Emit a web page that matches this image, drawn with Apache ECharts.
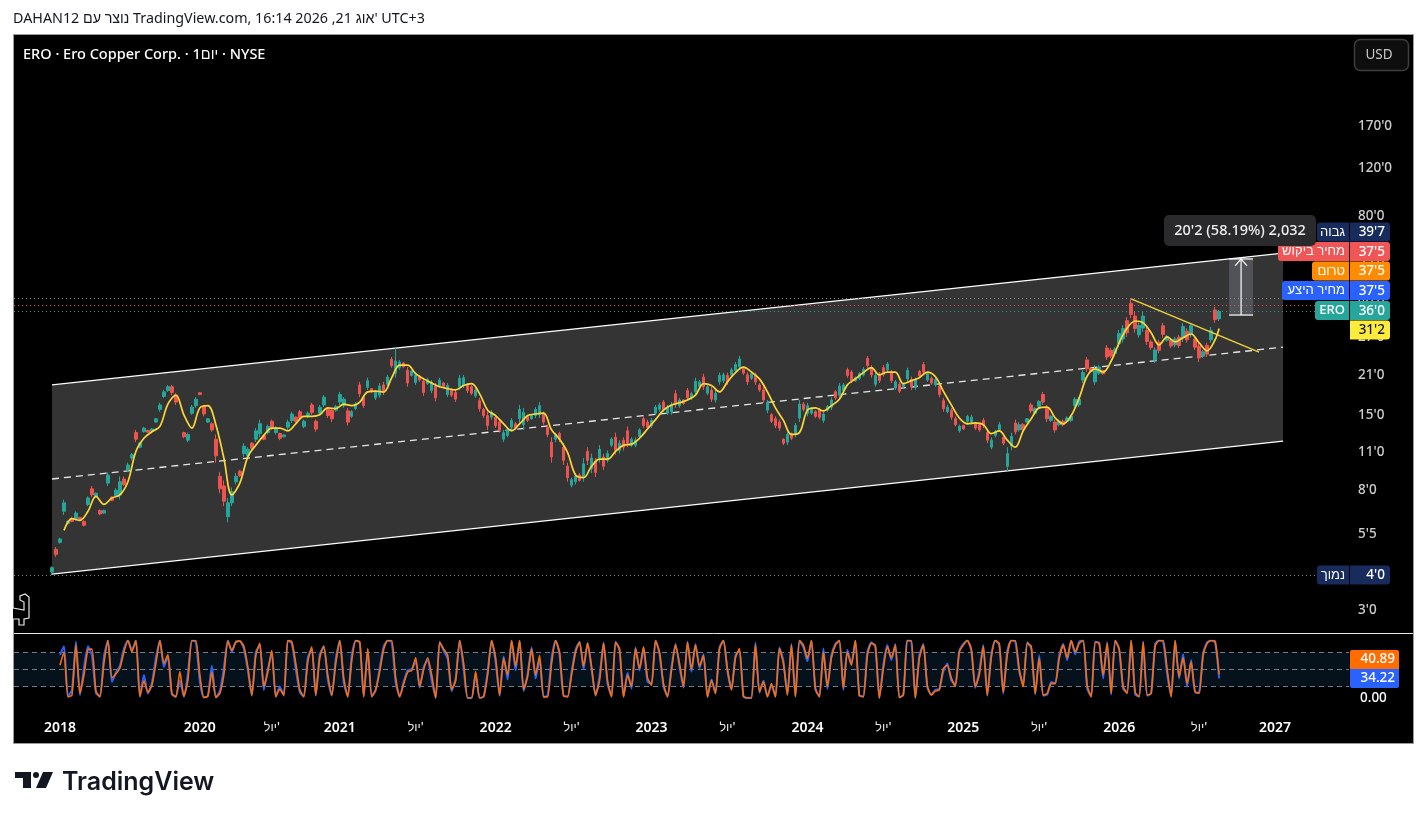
<!DOCTYPE html>
<html><head><meta charset="utf-8">
<style>html,body{margin:0;padding:0;background:#fff;overflow:hidden}#c{width:1427px;height:819px}</style>
<script src="https://cdn.jsdelivr.net/npm/echarts@6/dist/echarts.min.js"></script>
</head><body><div id="c"></div>
<script>
const slotCount = 334, firstCandleSlot = 9;
const opens = [4.1,4.95,5.25,6.8,6.15,6.4,6.4,6.45,6.25,7.2,
8.2,7.7,6.85,6.7,8.6,7.65,7.75,7.8,8.9,9.6,
10.6,13.1,11.6,13.2,13.35,13.25,14.3,15.9,17.7,18.6,
19.2,17.9,null,13.1,12.3,15.4,16.4,18.25,16.2,14.3,
14.1,12.4,9.1,8.4,6.5,7.3,8.7,9.5,11.0,10.8,
12.0,12.4,13.0,12.8,13.1,14.4,13.1,13.0,12.65,13.7,
14.5,14.9,15.6,13.8,15.0,16.5,14.4,15.4,16.5,15.9,
15.8,15.8,16.9,16.4,15.7,15.0,16.0,19.5,17.6,19.1,
18.9,17.5,17.9,19.5,19.6,24.1,21.5,22.5,23.4,22.0,
21.1,19.9,21.0,20.1,19.7,18.6,19.3,19.3,19.8,18.0,
18.8,18.3,19.2,19.4,19.5,19.2,17.8,17.1,15.9,15.1,
14.9,14.9,14.3,12.4,12.8,13.7,14.1,14.7,14.0,15.0,
14.7,15.1,15.2,15.3,13.7,12.1,12.4,13.0,11.6,9.9,
8.45,8.7,9.2,9.1,11.2,9.7,10.3,10.6,10.7,10.4,
11.8,12.6,11.3,12.3,13.3,11.8,11.8,12.7,14.7,14.3,
13.9,15.4,15.9,16.9,15.4,15.6,18.1,16.4,17.2,18.6,
17.5,18.4,19.3,20.8,18.2,18.7,17.2,20.0,20.2,21.1,
21.2,22.0,22.7,22.3,21.2,20.6,21.2,19.5,18.7,15.8,
15.2,14.7,14.3,12.4,12.1,13.0,13.0,14.8,16.6,15.4,
15.4,15.6,15.8,14.5,15.8,16.2,18.4,17.9,18.6,22.1,
21.7,20.2,20.6,21.2,24.3,22.5,19.6,21.3,22.5,22.1,
21.6,19.0,19.6,19.2,20.5,20.4,19.1,21.8,23.1,20.3,
20.6,19.5,19.3,17.1,15.6,15.8,14.7,13.3,13.9,14.4,
14.3,14.1,14.0,14.5,13.1,11.6,12.8,13.4,12.6,9.9,
11.7,14.2,13.4,14.0,14.3,16.5,15.4,16.3,18.0,16.0,
14.5,14.3,14.0,14.4,14.4,14.5,16.4,16.5,20.3,24.0,
22.4,20.0,21.5,22.0,26.5,26.0,25.4,27.5,28.6,33.3,
38.5,34.6,29.6,31.3,30.7,27.9,24.0,27.8,31.9,28.3,
28.4,27.2,29.0,28.9,30.5,29.7,28.5,26.9,24.8,27.1,
28.4,36.4,33.8];
const closes = [4.25,4.75,5.4,7.3,6.25,6.25,6.7,6.35,6.05,7.6,
7.8,7.9,6.65,6.85,9.2,7.45,8.1,8.7,8.5,10.0,
10.9,12.4,12.0,13.6,13.15,13.5,14.7,16.5,18.4,19.2,
18.3,16.9,null,12.65,12.9,16.2,17.3,18.0,15.3,14.7,
13.4,10.8,8.2,7.4,7.3,8.0,9.1,9.15,11.7,11.4,
11.5,13.3,14.1,12.4,13.8,13.6,13.6,12.5,12.85,14.3,
15.3,14.4,14.8,14.4,15.4,15.5,13.5,16.2,17.6,15.1,
14.7,16.3,18.0,17.3,14.3,15.6,16.6,18.1,16.4,20.2,
18.4,18.4,19.3,18.3,20.8,22.9,23.8,23.6,22.7,19.8,
21.9,21.2,20.3,18.3,20.4,19.9,17.5,20.3,19.2,19.4,
17.9,17.3,20.6,20.7,18.6,18.2,18.7,16.0,15.1,13.9,
15.5,13.9,13.4,13.1,13.4,14.5,13.6,15.9,15.5,14.5,
15.1,15.9,16.4,14.3,12.9,10.7,12.9,12.4,10.4,9.0,
8.85,9.1,8.8,10.1,10.4,10.6,9.4,11.4,9.9,11.0,
12.4,11.3,12.0,11.6,12.0,12.4,12.3,13.4,13.9,13.7,
14.5,16.2,16.5,15.9,16.2,16.5,16.6,17.2,16.7,17.5,
18.1,20.1,20.0,19.2,19.2,17.3,18.2,21.1,21.2,20.0,
22.1,23.1,24.2,21.5,20.0,21.4,20.0,18.7,17.2,16.9,
14.4,13.9,13.6,12.0,12.9,12.5,13.9,16.6,15.9,16.4,
16.0,15.0,14.9,15.3,16.3,17.2,17.5,19.3,19.5,21.1,
20.2,20.7,21.4,22.2,22.9,21.2,21.1,20.2,21.3,23.2,
20.2,20.0,18.5,19.6,22.0,19.2,20.3,21.0,21.7,21.4,
19.8,20.4,18.0,16.0,16.2,14.9,14.0,13.8,13.5,15.0,
14.9,13.6,13.4,13.9,12.3,12.3,13.2,14.0,12.0,11.0,
12.7,13.2,14.0,13.4,14.7,15.7,16.0,17.0,16.9,14.7,
15.0,13.4,14.4,14.0,14.8,15.0,17.3,17.3,21.6,22.3,
21.8,22.3,22.6,21.4,24.6,24.8,26.3,29.9,31.2,30.1,
35.1,31.2,32.0,34.6,28.0,26.6,26.1,26.0,29.7,29.2,
27.0,28.6,27.1,31.7,28.4,31.9,26.7,24.4,25.7,25.2,
30.7,33.6,36.0];
const lows = [4.0,4.65,5.2,6.6,6.1,6.2,6.3,6.3,6.0,7.1,
7.65,7.65,6.6,6.65,8.4,7.4,7.65,7.5,8.4,9.45,
10.4,12.1,11.5,13.1,13.1,13.2,14.2,15.6,17.5,18.4,
17.9,16.5,null,12.5,12.1,15.2,16.1,17.9,15.0,14.2,
13.2,10.2,7.9,7.1,6.2,7.1,8.5,9.05,10.7,10.6,
11.3,12.1,12.6,12.3,12.9,13.4,12.9,12.3,12.6,13.4,
14.2,14.2,14.6,13.6,14.8,15.2,13.2,15.2,16.2,14.8,
14.3,15.6,16.5,16.1,13.9,14.8,15.8,17.6,16.1,18.7,
18.2,17.2,17.5,17.9,19.2,22.5,20.7,22.1,22.5,19.2,
20.9,19.5,20.0,17.8,19.5,18.2,17.0,19.0,19.0,17.6,
17.6,16.9,18.7,19.0,18.2,17.9,17.5,15.6,14.8,13.4,
14.6,13.6,13.1,12.1,12.6,13.4,13.4,14.2,13.4,14.3,
14.6,14.8,14.8,14.0,12.6,10.2,12.1,12.1,10.0,8.7,
8.3,8.5,8.7,8.7,10.0,9.35,9.05,10.2,9.6,10.2,
11.6,10.9,11.0,11.3,11.6,11.6,11.6,12.5,13.6,13.4,
13.6,15.2,15.6,15.6,15.2,15.2,16.1,16.1,16.5,17.2,
17.2,17.9,19.0,18.7,17.9,16.9,16.8,19.5,19.8,19.5,
20.9,21.6,22.1,21.2,19.5,20.3,19.5,18.4,16.8,15.4,
14.2,13.6,13.3,11.8,11.8,12.3,12.6,14.3,15.6,15.0,
15.2,14.8,14.6,14.2,15.6,15.8,17.2,17.5,18.4,20.7,
19.8,20.0,20.3,20.9,22.5,20.7,19.2,19.8,20.9,21.7,
19.8,18.7,18.2,19.0,20.0,18.7,18.7,20.7,21.2,20.0,
19.5,19.2,17.6,15.6,15.4,14.6,13.8,13.1,13.4,14.2,
14.0,13.4,13.2,13.6,12.0,11.4,12.6,13.2,11.8,9.5,
11.3,12.9,13.2,13.2,14.2,15.4,15.2,16.1,16.5,14.3,
14.3,13.1,13.8,13.8,14.2,14.3,16.1,16.2,19.8,21.7,
21.6,19.5,21.2,21.2,24.0,24.4,25.0,26.7,27.7,29.1,
34.0,30.1,28.9,30.3,27.2,26.1,23.4,25.4,28.9,27.9,
26.5,26.7,26.5,27.9,27.7,28.9,26.1,23.6,24.4,24.6,
27.7,32.7,33.2];
const highs = [4.3,5.05,5.45,7.5,6.3,6.5,6.8,6.5,6.3,7.7,
8.4,7.95,6.9,6.9,9.4,7.7,8.25,9.1,9.1,10.2,
11.05,13.4,12.1,13.75,13.4,13.6,14.8,16.8,18.7,19.5,
19.5,18.2,null,13.2,13.1,16.5,17.6,18.3,16.5,14.8,
14.3,12.9,9.45,8.8,7.6,8.3,9.35,9.6,12.0,11.6,
12.1,13.6,14.6,12.9,14.0,14.6,13.8,13.1,12.9,14.6,
15.6,15.0,15.8,14.6,15.6,16.8,14.6,16.5,17.9,16.2,
16.1,16.5,18.4,17.6,16.1,15.8,16.9,20.0,17.9,20.7,
19.0,18.7,19.8,20.0,21.2,24.6,26.5,24.0,23.6,22.6,
22.1,21.7,21.2,20.7,20.7,20.3,19.8,20.7,20.0,19.8,
19.0,18.7,21.2,21.2,19.8,19.5,19.0,17.5,16.1,15.6,
15.8,15.2,14.6,13.4,13.6,14.8,14.3,16.5,16.1,15.2,
15.2,16.2,16.9,15.6,14.0,12.6,13.1,13.2,12.0,10.2,
9.0,9.35,9.35,10.6,11.6,11.0,10.6,11.8,11.0,11.3,
12.6,13.1,12.3,12.6,13.8,12.6,12.6,13.6,15.0,14.6,
14.8,16.5,16.8,17.2,16.5,16.9,18.7,17.5,17.3,19.0,
18.4,20.7,20.3,21.4,19.5,19.2,18.7,21.6,21.6,21.6,
22.5,23.6,24.8,22.6,21.7,21.7,21.6,19.8,19.2,17.2,
15.4,15.0,14.6,12.5,13.2,13.1,14.2,17.2,16.9,16.8,
16.2,15.8,16.1,15.6,16.5,17.6,18.7,19.8,19.8,22.5,
22.1,20.9,21.7,22.6,24.8,23.0,21.6,21.7,23.0,23.6,
22.1,20.3,20.0,19.8,22.5,20.9,20.7,22.1,23.6,21.7,
20.9,20.7,19.8,17.5,16.5,16.1,15.0,14.0,14.0,15.2,
15.2,14.3,14.2,14.8,13.4,12.6,13.4,14.3,12.9,11.6,
13.1,14.6,14.3,14.2,14.8,16.8,16.2,17.2,18.4,16.5,
15.2,14.6,14.6,14.6,15.0,15.2,17.6,17.6,22.1,24.6,
22.6,23.0,23.0,22.1,27.2,26.5,26.7,30.8,32.1,34.3,
39.9,35.8,32.7,35.8,31.6,28.4,26.7,28.4,32.7,29.6,
28.9,29.1,29.6,32.7,31.3,32.7,29.1,27.7,26.1,27.7,
31.6,37.4,36.4];

const smaFirstSlot = 12;
const smaValues = [5.8,6.4,6.3,6.8,7.7,7.2,7.6,7.8,8.7,11.2,
12.5,13.2,13.8,16.6,17.9,15.2,13.6,16.1,16.4,14.0,
10.6,7.8,8.6,10.7,11.8,12.8,13.6,13.6,13.3,14.1,
15.0,15.0,15.2,16.1,16.0,16.6,16.4,16.9,18.4,18.5,
18.4,20.7,23.0,23.0,21.4,20.5,19.8,19.2,18.9,18.7,
19.4,19.7,18.1,15.8,15.1,14.1,13.3,14.1,15.1,15.3,
15.4,13.4,12.4,11.1,9.2,9.0,9.9,10.5,10.5,11.2,
11.8,11.9,12.5,13.5,14.6,15.8,16.5,16.8,17.2,17.9,
19.7,19.4,18.4,20.0,21.6,22.6,21.7,20.5,18.4,16.1,
14.5,12.9,13.1,15.8,16.1,15.7,16.4,17.3,19.5,20.5,
21.6,22.5,21.2,21.7,21.7,19.7,20.2,20.7,21.7,20.9,
18.5,16.5,14.8,14.1,14.2,14.0,13.0,13.3,12.3,11.6,
13.3,14.7,16.1,16.2,14.8,14.1,15.1,17.5,21.0,22.3,
21.7,23.8,27.7,31.3,33.2,32.7,30.1,27.2,29.1,27.9,
28.9,29.8,27.7,25.9,28.4];
const smaLast = [301, 31.2];

const channelSlots = [9, 317];
const channelTop = [19.5, 58.5];
const channelMid = [8.9, 26.7];
const channelBottom = [4.03, 12.2];
const trendSlots = [279, 311];
const trendValues = [39.9, 25.6];
const measureSlots = [304, 310];
const measureValues = [55.7, 34.9];
const priceLevels = [[40.0, '#8d8f96'], [37.9, '#ef5350'], [36.0, '#26a69a'], [4.0, '#8d8f96']];

const oscFirstSlot = 11;
const stochOrange = [57,80,2,5,92,8,40,84,85,12,
2,60,100,35,42,52,80,100,80,100,
3,30,10,22,60,100,60,75,8,2,
46,3,30,100,100,40,1,3,45,1,
8,40,99,83,97,99,90,54,5,74,
95,20,45,83,2,15,5,100,98,60,
15,2,63,89,5,70,90,40,5,60,
100,35,2,65,100,98,2,86,2,15,
46,85,100,100,35,2,25,45,48,70,
20,50,70,40,0,97,85,74,15,30,
100,60,0,0,46,0,2,40,100,70,
5,69,40,100,55,100,15,37,85,40,
74,2,2,60,100,80,4,2,40,80,
97,55,95,55,5,30,95,30,2,97,
86,2,40,20,86,51,89,35,22,100,
80,25,2,48,92,60,20,97,50,92,
55,74,2,31,8,85,100,50,14,70,
86,3,0,0,92,11,28,2,25,2,
86,60,5,92,2,100,92,69,100,17,
2,80,20,70,92,100,17,80,57,100,
5,2,74,95,92,0,51,89,70,92,
1,5,100,100,0,69,92,22,5,12,
14,51,57,35,20,80,92,100,86,20,
40,90,5,70,100,95,10,75,100,100,
50,20,95,90,8,69,5,8,25,25,
69,92,70,100,80,95,100,22,2,97,
95,40,95,8,100,86,20,8,100,10,
2,97,5,8,90,100,100,50,2,100,
37,70,25,63,11,8,74,95,100,99,
40.89];
const stochBlue = [75,90,3,14,98,5,52,90,74,8,
3,72,100,28,44,56,86,100,84,100,
2,40,8,26,70,100,54,72,6,3,
30,2,42,100,97,28,1,4,56,1,
12,52,100,80,98,99,86,48,4,80,
92,14,50,78,3,20,4,100,95,50,
10,3,70,86,4,76,90,32,4,68,
100,26,3,74,100,96,3,84,3,13,
52,90,100,97,26,3,28,48,50,64,
18,54,66,30,0,98,82,68,12,34,
100,50,0,0,40,0,3,46,100,62,
4,72,32,100,48,100,12,42,88,34,
68,2,4,70,100,74,3,3,46,84,
98,50,96,50,4,38,96,24,3,98,
82,3,44,16,88,48,86,28,25,100,
76,20,3,54,94,54,18,98,46,94,
52,76,2,32,8,88,100,46,16,74,
82,3,0,0,96,9,30,3,22,3,
88,64,6,94,3,100,88,64,100,14,
3,86,16,74,94,100,14,84,60,100,
4,3,80,97,88,0,58,92,66,94,
1,6,100,98,0,74,94,18,6,14,
16,46,60,30,24,82,94,100,82,18,
46,92,4,76,100,92,8,82,100,98,
46,24,97,86,6,74,4,6,28,26,
74,94,66,100,76,98,100,16,3,98,
96,34,97,6,100,84,16,10,100,6,
3,98,4,8,94,100,98,42,3,100,
34,76,20,66,9,10,78,97,100,96,
34.22];

const xTickSlots = [11,46,64,81,100,120,139,159,178,198,217,237,256,276,296,315];
const xTickLabels = ['2018','2020',"יול'",'2021',"יול'",'2022',"יול'",'2023',"יול'",'2024',"יול'",'2025',"יול'",'2026',"יול'",'2027'];
const yTickValues = [170,120,80.5,54.8,39.6,29.3,21.35,15.3,11.2,8.19,5.67,3];
const yTickLabels = ["170'0","120'0","80'0","55'0","40'0","27'0","21'0","15'0","11'0","8'0","5'5","3'0"];
const oscLevels = [20,50,80];

const UI = '"Noto Sans","Liberation Sans",sans-serif';
const categories = Array.from({length: slotCount}, (_, i) => {
  const k = xTickSlots.indexOf(i);
  return k >= 0 ? xTickLabels[k] : '';
});
const candles = opens.map((o, i) => [o, closes[i], lows[i], highs[i]]);
const candleData = categories.map((_, i) => {
  const c = candles[i - firstCandleSlot];
  return c && c[0] != null ? c : ['-','-','-','-'];
});
const smaData = smaValues.map((v, k) => [smaFirstSlot + 2 * k, v]).concat([smaLast]);
const orangeData = stochOrange.map((v, k) => [oscFirstSlot + k, v]);
const blueData = stochBlue.map((v, k) => [oscFirstSlot + k, v]);

function twoPoint(slots, vals) { return slots.map((s, i) => [s, vals[i]]); }

const tags = [
  {left:'גבוה', val:"39'7", c:'#172b5c', y:232, lx:1317},
  {left:'מחיר ביקוש', val:"37'5", c:'#f05656', y:251.5, lx:1278},
  {left:'טרום', val:"37'5", c:'#ff8c00', y:271, lx:1312},
  {left:'מחיר היצע', val:"37'5", c:'#2962ff', y:290.5, lx:1282},
  {left:'ERO', val:"36'0", c:'#26a69a', y:310.5, lx:1315},
  {left:null, val:"31'2", c:'#ffeb3b', y:330, lx:1350, dark:true},
  {left:'נמוך', val:"4'0", c:'#172b5c', y:575, lx:1317}
];
const tagG = [];
tags.forEach(t => {
  if (t.left) {
    tagG.push({type:'rect', z:50, shape:{x:t.lx,y:t.y-9.5,width:1349-t.lx,height:19,r:[3,0,0,3]}, style:{fill:t.c}});
    tagG.push({type:'text', z:51, style:{x:1345,y:t.y,text:t.left,fill:'#fff',font:'500 13px '+UI,textAlign:'right',textVerticalAlign:'middle'}});
  }
  tagG.push({type:'rect', z:50, shape:{x:1350,y:t.y-9.5,width:40,height:19,r:[0,3,3,0]}, style:{fill:t.c}});
  tagG.push({type:'text', z:51, style:{x:1385,y:t.y+.5,text:t.val,fill:t.dark?'#131722':'#fff',font:'500 13.5px '+UI,textAlign:'right',textVerticalAlign:'middle'}});
});

const graphics = [
  {type:'rect', z:-10, shape:{x:13.5,y:34.5,width:1400,height:709}, style:{fill:'#000',stroke:'#9a9a9a',lineWidth:1}},
  {type:'line', z:20, shape:{x1:14,y1:633.5,x2:1413,y2:633.5}, style:{stroke:'#e6e6e6',lineWidth:1}},
  {type:'text', z:51, style:{x:13,y:19,text:"DAHAN12 נוצר עם TradingView.com, 16:14 2026 ,21 אוג' UTC+3",fill:'#131722',font:'14.3px '+UI,textVerticalAlign:'middle'}},
  {type:'text', z:51, style:{x:23,y:55,text:'ERO · Ero Copper Corp. · 1יום · NYSE',fill:'#fff',font:'500 14.5px '+UI,textVerticalAlign:'middle'}},
  {type:'rect', z:51, shape:{x:1354.5,y:39.5,width:54,height:31,r:6}, style:{fill:'#0e0e0e',stroke:'#3d3d3d',lineWidth:1.5}},
  {type:'text', z:52, style:{x:1379,y:55,text:'USD',fill:'#c8c8c8',font:'13.5px '+UI,textAlign:'center',textVerticalAlign:'middle'}},
  {type:'rect', z:52, shape:{x:1164,y:215,width:152,height:31,r:5}, style:{fill:'#2a2a2c'}},
  {type:'text', z:53, style:{x:1240,y:230.5,text:"20'2 (58.19%) 2,032",fill:'#f0f0f0',font:'500 14.5px '+UI,textAlign:'center',textVerticalAlign:'middle'}},
  {type:'polyline', z:30, shape:{points:[[13,608],[24,610],[24,602],[20,600],[20,596],[25,594],[29,597],[29,618],[24,619],[24,625],[19,625],[19,619],[13,619]]}, style:{stroke:'#e8e8e8',fill:'#000',lineWidth:1.2}},
  {type:'rect', z:50, shape:{x:1350,y:650,width:49,height:19,r:[2,2,0,0]}, style:{fill:'#ff6d00'}},
  {type:'text', z:51, style:{x:1395,y:659.5,text:'40.89',fill:'#fff',font:'500 13.5px '+UI,textAlign:'right',textVerticalAlign:'middle'}},
  {type:'rect', z:50, shape:{x:1350,y:669,width:49,height:19,r:[0,0,2,2]}, style:{fill:'#2962ff'}},
  {type:'text', z:51, style:{x:1395,y:678.5,text:'34.22',fill:'#fff',font:'500 13.5px '+UI,textAlign:'right',textVerticalAlign:'middle'}},
  {type:'polygon', shape:{points:[[15,772],[31,772],[31,788],[23,788],[23,778],[15,778]]}, style:{fill:'#131722'}},
  {type:'circle', shape:{cx:36,cy:775,r:3}, style:{fill:'#131722'}},
  {type:'polygon', shape:{points:[[43,772],[53,772],[46,788],[36,788]]}, style:{fill:'#131722'}},
  {type:'text', style:{x:62,y:782,text:'TradingView',fill:'#131722',font:'600 25px Inter,'+UI,textVerticalAlign:'middle'}}
].concat(tagG);

const option = {
  animation:false, backgroundColor:'#fff',
  graphic:graphics,
  grid:[
    {left:14, width:1335, top:35, height:597, containLabel:false},
    {left:14, width:1335, top:640.5, height:57.5, containLabel:false}
  ],
  xAxis:[
    {type:'category', gridIndex:0, data:categories, show:false, boundaryGap:true},
    {type:'category', gridIndex:1, data:categories, boundaryGap:true,
     axisLine:{show:false}, axisTick:{show:false},
     axisLabel:{interval:0, margin:23, hideOverlap:false, fontFamily:UI,
       formatter:v => !v ? '' : (/^\d+$/.test(v) ? '{y|'+v+'}' : '{m|'+v+'}'),
       rich:{y:{color:'#fff',fontFamily:UI,fontSize:14,fontWeight:600}, m:{color:'#e8e8e8',fontFamily:UI,fontSize:12.5,fontWeight:500}}}}
  ],
  yAxis:[
    {type:'log', gridIndex:0, position:'right', min:2.487, max:360, splitLine:{show:false}, axisLine:{show:false}, axisTick:{show:false},
     axisLabel:{show:false}},
    {type:'value', gridIndex:1, position:'right', min:0, max:100, interval:100, splitLine:{show:false}, axisLine:{show:false}, axisTick:{show:false},
     axisLabel:{show:true, margin:11, color:'#fff', fontFamily:UI, fontSize:13.5, fontWeight:500, formatter:v => v === 0 ? '0.00' : ''}}
  ],
  series:[
    {type:'custom', xAxisIndex:0, yAxisIndex:0, z:1, silent:true, clip:false, data:[[channelSlots[0], channelTop[0]]],
     renderItem:(p, api) => {
       const pts = [[channelSlots[0],channelTop[0]],[channelSlots[1],channelTop[1]],[channelSlots[1],channelBottom[1]],[channelSlots[0],channelBottom[0]]].map(d => api.coord(d));
       return {type:'polygon', shape:{points:pts}, style:{fill:'#343434'}};
     }},
    {type:'line', xAxisIndex:0, yAxisIndex:0, z:2, silent:true, symbol:'none', data:twoPoint(channelSlots, channelTop), lineStyle:{color:'#fff',width:1.3}},
    {type:'line', xAxisIndex:0, yAxisIndex:0, z:2, silent:true, symbol:'none', data:twoPoint(channelSlots, channelBottom), lineStyle:{color:'#fff',width:1.3}},
    {type:'line', xAxisIndex:0, yAxisIndex:0, z:2, silent:true, symbol:'none', data:twoPoint(channelSlots, channelMid), lineStyle:{color:'#e8e8e8',width:1.3,type:[7,5]},
     markLine:{silent:true, symbol:'none', label:{show:false}, animation:false, data:priceLevels.map(l => ({yAxis:l[0], lineStyle:{color:l[1],type:[1,3],width:1,opacity:.95}}))}},
    {type:'candlestick', xAxisIndex:0, yAxisIndex:0, z:4, silent:true, barWidth:3, data:candleData,
     itemStyle:{color:'#26a69a', color0:'#ef5350', borderColor:'#26a69a', borderColor0:'#ef5350', borderWidth:1}},
    {type:'line', xAxisIndex:0, yAxisIndex:0, z:6, silent:true, symbol:'none', smooth:.35, data:smaData, lineStyle:{color:'#fdd835',width:1.7}},
    {type:'line', xAxisIndex:0, yAxisIndex:0, z:7, silent:true, symbol:'none', data:twoPoint(trendSlots, trendValues), lineStyle:{color:'#f2d43a',width:1.3}},
    {type:'custom', xAxisIndex:0, yAxisIndex:0, z:8, silent:true, clip:false, data:[[measureSlots[0], measureValues[0]]],
     renderItem:(p, api) => {
       const a = api.coord([measureSlots[0], measureValues[0]]), b = api.coord([measureSlots[1], measureValues[1]]);
       const x0 = a[0]-2, x1 = b[0]-2, xm = (x0+x1)/2, y0 = a[1], y1 = b[1], s = {stroke:'#fff',lineWidth:1.2,fill:null};
       return {type:'group', children:[
         {type:'rect', shape:{x:x0,y:y0,width:x1-x0,height:y1-y0}, style:{fill:'rgba(120,123,134,0.45)'}},
         {type:'line', shape:{x1:x0,y1:y0,x2:x1,y2:y0}, style:s},
         {type:'line', shape:{x1:x0,y1:y1,x2:x1,y2:y1}, style:s},
         {type:'line', shape:{x1:xm,y1:y0,x2:xm,y2:y1}, style:s},
         {type:'polyline', shape:{points:[[xm-6,y0+7],[xm,y0],[xm+6,y0+7]]}, style:s}
       ]};
     }},
    {type:'scatter', xAxisIndex:0, yAxisIndex:0, z:3, silent:true, symbolSize:0, clip:false,
     data:yTickValues.map((v, i) => ({value:[slotCount-1, v], label:{show:true, position:'right', distance:11, offset:[0,1], formatter:yTickLabels[i], color:'#fff', fontFamily:UI, fontSize:13.5, fontWeight:500}}))},
    {type:'line', xAxisIndex:1, yAxisIndex:1, z:3, silent:true, symbol:'none', smooth:.2, data:blueData, lineStyle:{color:'#2962ff',width:2}},
    {type:'line', xAxisIndex:1, yAxisIndex:1, z:4, silent:true, symbol:'none', smooth:.2, data:orangeData, lineStyle:{color:'#ff6d00',width:1.6},
     markArea:{silent:true, itemStyle:{color:'#06121b'}, data:[[{yAxis:oscLevels[0]},{yAxis:oscLevels[2]}]]},
     markLine:{silent:true, symbol:'none', label:{show:false}, z:1, data:oscLevels.map(v => ({yAxis:v, lineStyle:{color:'#787b86',type:[5,4],width:1}}))}}
  ]
};
echarts.init(document.getElementById('c'), null, {renderer:'canvas', width:1427, height:819}).setOption(option);
</script></body></html>
